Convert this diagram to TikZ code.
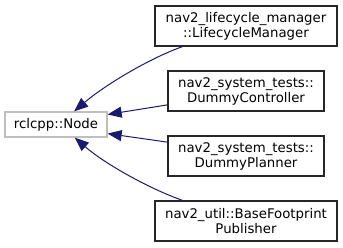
\documentclass[tikz,border=0pt]{standalone}
\usepackage{fontspec}
\setmainfont{DejaVu Sans}
\usetikzlibrary{positioning,arrows.meta}
\definecolor{basegray}{HTML}{BFBFBF}
\definecolor{edgeblue}{HTML}{191970}

\begin{document}
\begin{tikzpicture}[
	x=1pt, y=-1pt,
	every node/.style={font=\fontsize{13.3}{15}\selectfont, align=center, inner sep=0pt},
	classbox/.style={draw=black!85, line width=1.3pt, minimum height=40pt},
	basebox/.style={draw=basegray, line width=1.3pt, minimum width=102pt, minimum height=25pt},
	edge/.style={draw=edgeblue, line width=1pt, -{Triangle[length=14pt,width=11pt]}}
	]
	\useasboundingbox (0,0) rectangle (343,248);
	
	\node[basebox] (base) at (56,124.5) {rclcpp::Node};
	
	\node[classbox, minimum width=182pt] (manager) at (246,26) {nav2\_lifecycle\_manager\\::LifecycleManager};
	\node[classbox, minimum width=156pt] (controller) at (246,91) {nav2\_system\_tests::\\DummyController};
	\node[classbox, minimum width=156pt] (planner) at (246,156) {nav2\_system\_tests::\\DummyPlanner};
	\node[classbox, minimum width=182pt] (footprint) at (246,221) {nav2\_util::BaseFootprint\\Publisher};
	
	\draw[edge] (manager.198) .. controls (150,58) and (105,85) .. (base.36);
	\draw[edge] (controller.190) -- (base.11);
	\draw[edge] (planner.170) -- (base.-10);
	\draw[edge] (footprint.162) .. controls (150,189) and (105,164) .. (base.-35);
	
\end{tikzpicture}
\end{document}
